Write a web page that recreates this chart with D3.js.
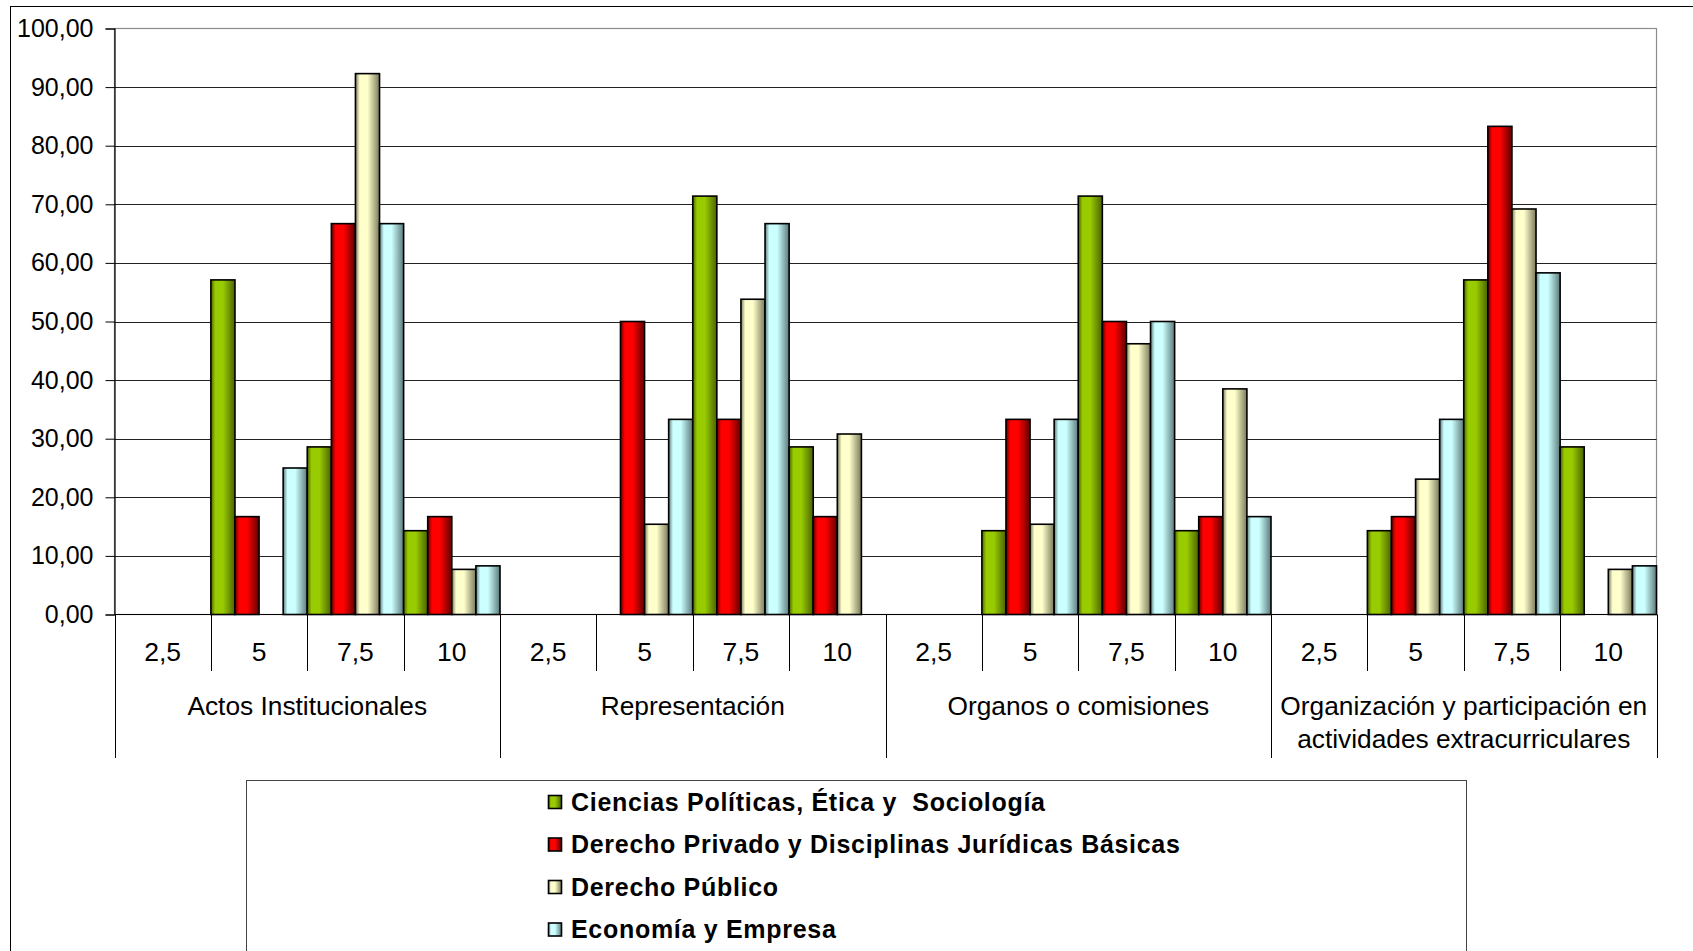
<!DOCTYPE html>
<html>
<head>
<meta charset="utf-8">
<script src="https://cdn.jsdelivr.net/npm/d3@7"></script>
<style>
  html, body { margin: 0; padding: 0; background: #fff; }
  svg { display: block; }
  text { font-family: "Liberation Sans", Arial, sans-serif; fill: #000; }
</style>
</head>
<body>
<svg id="chart" width="1693" height="951"></svg>
<script>
// ---- Data ----
const groups = ["Actos Institucionales", "Representación", "Organos o comisiones",
  "Organización y participación en|actividades extracurriculares"];
const subcats = ["2,5", "5", "7,5", "10"];
const seriesNames = ["Ciencias Políticas, Ética y  Sociología",
  "Derecho Privado y Disciplinas Jurídicas Básicas",
  "Derecho Público",
  "Economía y Empresa"];
// values per series, ordered group by group, sub-category by sub-category
const cienciasPoliticas = [0, 57.1, 28.6, 14.3,  0, 0, 71.4, 28.6,  0, 14.3, 71.4, 14.3,  0, 14.3, 57.1, 28.6];
const derechoPrivado    = [0, 16.7, 66.7, 16.7,  0, 50, 33.3, 16.7,  0, 33.3, 50, 16.7,  0, 16.7, 83.3, 0];
const derechoPublico    = [0, 0, 92.3, 7.7,      0, 15.4, 53.8, 30.8, 0, 15.4, 46.2, 38.5, 0, 23.1, 69.2, 7.7];
const economiaEmpresa   = [0, 25, 66.7, 8.3,     0, 33.3, 66.7, 0,    0, 33.3, 50, 16.7,   0, 33.3, 58.3, 8.3];
const yTicks = [0, 10, 20, 30, 40, 50, 60, 70, 80, 90, 100];
const seriesBase = ["#99CC00", "#FF0000", "#FFFFCC", "#CCFFFF"];
const seriesDark = ["#4a6300", "#600000", "#7a7a5c", "#5c7a7a"];

const seriesValues = [cienciasPoliticas, derechoPrivado, derechoPublico, economiaEmpresa];

// ---- Layout ----
const svg = d3.select("#chart");
const plot = { left: 114.5, right: 1656.5, top: 28.5, bottom: 614.5 };

const slots = [];
groups.forEach((g, gi) => subcats.forEach((s, si) => slots.push({ key: gi + "_" + si, g: gi, s: si })));

const x = d3.scaleBand().domain(slots.map(d => d.key)).range([plot.left, plot.right]).paddingInner(0).paddingOuter(0);
const xs = d3.scaleBand().domain(d3.range(seriesNames.length)).range([0, x.bandwidth()]).padding(0);
const y = d3.scaleLinear().domain([0, 100]).range([plot.bottom, plot.top]);

const locale = d3.formatLocale({ decimal: ",", thousands: ".", grouping: [3], currency: ["", "€"] });
const fmt = locale.format(".2f");

// gradients
const defs = svg.append("defs");
seriesBase.forEach((c, i) => {
  const lg = defs.append("linearGradient").attr("id", "grad" + i)
    .attr("x1", 0).attr("x2", 1).attr("y1", 0).attr("y2", 0);
  lg.append("stop").attr("offset", "0").attr("stop-color", seriesDark[i]);
  lg.append("stop").attr("offset", "0.18").attr("stop-color", c);
  lg.append("stop").attr("offset", "0.5").attr("stop-color", c);
  lg.append("stop").attr("offset", "1").attr("stop-color", seriesDark[i]);
});

// outer chart border
svg.append("rect").attr("x", 10.5).attr("y", 6.5).attr("width", 1720).attr("height", 1000)
  .attr("fill", "#fff").attr("stroke", "#000").attr("stroke-width", 1);

// plot frame (gray top/right)
svg.append("rect").attr("x", plot.left).attr("y", plot.top)
  .attr("width", plot.right - plot.left).attr("height", plot.bottom - plot.top)
  .attr("fill", "none").attr("stroke", "#8c8c8c").attr("stroke-width", 1.2);

// gridlines
svg.append("g").selectAll("line").data(yTicks.filter(t => t > 0 && t < 100)).join("line")
  .attr("x1", plot.left).attr("x2", plot.right)
  .attr("y1", d => Math.round(y(d)) + 0.5).attr("y2", d => Math.round(y(d)) + 0.5)
  .attr("stroke", "#222").attr("stroke-width", 1);

// y axis
const yAxis = d3.axisLeft(y).tickValues(yTicks).tickFormat(fmt).tickSize(9).tickPadding(12);
const yg = svg.append("g").attr("transform", `translate(${plot.left},0)`).call(yAxis);
yg.select(".domain").attr("stroke", "#000").attr("stroke-width", 1.2);
yg.selectAll(".tick line").attr("stroke", "#000");
yg.selectAll(".tick text").attr("font-size", 25).attr("font-family", "Liberation Sans, Arial, sans-serif")
  .attr("fill", "#000");

// bars
const barData = [];
slots.forEach((sl, idx) => {
  seriesValues.forEach((vals, si) => {
    if (vals[idx] > 0) barData.push({ slot: sl.key, s: si, v: vals[idx] });
  });
});
svg.append("g").selectAll("rect").data(barData).join("rect")
  .attr("x", d => x(d.slot) + xs(d.s))
  .attr("width", xs.bandwidth())
  .attr("y", d => y(d.v))
  .attr("height", d => y(0) - y(d.v))
  .attr("fill", d => `url(#grad${d.s})`)
  .attr("stroke", "#000").attr("stroke-width", 1.6);

// category axis baseline
svg.append("line").attr("x1", plot.left).attr("x2", plot.right)
  .attr("y1", plot.bottom).attr("y2", plot.bottom).attr("stroke", "#000").attr("stroke-width", 1.2);

// category axis ticks
const boundaries = d3.range(slots.length + 1);
const bx = i => (i < slots.length ? x(slots[i].key) : plot.right);
svg.append("g").selectAll("line").data(boundaries).join("line")
  .attr("x1", i => Math.round(bx(i)) + 0.5).attr("x2", i => Math.round(bx(i)) + 0.5)
  .attr("y1", plot.bottom)
  .attr("y2", i => (i % subcats.length === 0 ? 758 : 671))
  .attr("stroke", "#000").attr("stroke-width", 1);

// sub-category labels
svg.append("g").selectAll("text").data(slots).join("text")
  .attr("x", d => x(d.key) + x.bandwidth() / 2)
  .attr("y", 661)
  .attr("text-anchor", "middle")
  .attr("font-size", 26.5)
  .text(d => subcats[d.s]);

// group labels
const gl = svg.append("g").selectAll("text").data(groups).join("text")
  .attr("x", (d, gi) => (x(slots[gi * 4].key) + x(slots[gi * 4 + 3].key) + x.bandwidth()) / 2)
  .attr("y", 714.5)
  .attr("text-anchor", "middle")
  .attr("font-size", 26.3);
gl.each(function (d) {
  const parts = d.split("|");
  const t = d3.select(this);
  parts.forEach((p, i) => {
    t.append("tspan").attr("x", t.attr("x")).attr("dy", i === 0 ? 0 : 33.5).text(p);
  });
});

// legend
svg.append("rect").attr("x", 246.5).attr("y", 780.5).attr("width", 1220).attr("height", 300)
  .attr("fill", "#fff").attr("stroke", "#444").attr("stroke-width", 1);
const legendY = d3.scalePoint().domain(d3.range(seriesNames.length)).range([802, 929.5]);
const lg = svg.append("g").selectAll("g").data(seriesNames).join("g")
  .attr("transform", (d, i) => `translate(0,${legendY(i)})`);
lg.append("rect").attr("x", 548.5).attr("y", -6.5).attr("width", 13).attr("height", 13)
  .attr("fill", (d, i) => `url(#grad${i})`).attr("stroke", "#000").attr("stroke-width", 1.6);
lg.append("text").attr("x", 571).attr("y", 8.8)
  .attr("font-size", 25).attr("font-weight", "bold")
  .attr("letter-spacing", 0.7)
  .style("white-space", "pre")
  .text(d => d);
</script>
</body>
</html>
